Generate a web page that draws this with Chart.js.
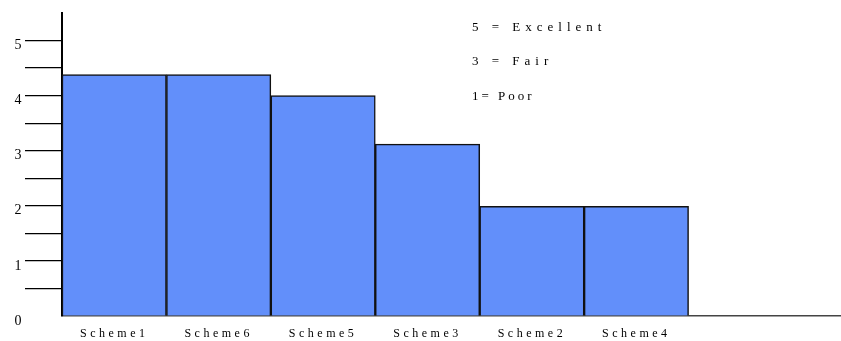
<!DOCTYPE html>
<html>
<head>
<meta charset="utf-8">
<script src="https://cdn.jsdelivr.net/npm/chart.js@4/dist/chart.umd.min.js"></script>
<style>
  html, body { margin: 0; padding: 0; background: #fff; }
  #wrap { width: 841px; height: 341px; position: relative; }
</style>
</head>
<body>
<div id="wrap"><canvas id="chart"></canvas></div>
<script>
// ratings per scheme, in plotted order
const schemes = ['Scheme1', 'Scheme6', 'Scheme5', 'Scheme3', 'Scheme2', 'Scheme4'];
const ratings = [4.38, 4.38, 4.0, 3.12, 1.99, 1.99];
const yTicks = [0, 0.5, 1, 1.5, 2, 2.5, 3, 3.5, 4, 4.5, 5];
const scaleNotes = ['5 = Excellent', '3 = Fair', '1= Poor'];

const SERIF = '"Liberation Serif", "DejaVu Serif", serif';

// the rating key in the upper right
const notesPlugin = {
    id: 'notes',
    beforeDraw(chart) {
        chart.ctx.letterSpacing = '3.5px';
    },
    afterDraw(chart) {
        const ctx = chart.ctx;
        ctx.save();
        ctx.font = '13px ' + SERIF;
        ctx.fillStyle = '#000';
        ctx.textBaseline = 'middle';
        ctx.textAlign = 'left';
        const ys = [28, 62, 97];
        scaleNotes.forEach((t, i) => {
            ctx.letterSpacing = i === 2 ? '3px' : '5px';
            ctx.fillText(t, 472, ys[i]);
        });
        ctx.restore();
    }
};

new Chart(document.getElementById('chart'), {
    type: 'bar',
    data: {
        datasets: [{
            data: ratings.map((v, i) => ({ x: i + 0.5, y: v })),
            backgroundColor: '#628ffa',
            borderColor: '#111',
            borderWidth: 1.5,
            borderSkipped: 'bottom',
            barPercentage: 1,
            categoryPercentage: 1
        }]
    },
    options: {
        responsive: true,
        maintainAspectRatio: false,
        animation: false,
        layout: { padding: { left: 6, right: 1, top: 13, bottom: 0 } },
        plugins: { legend: { display: false }, tooltip: { enabled: false } },
        scales: {
            x: {
                type: 'linear',
                offset: false,
                min: 0,
                max: 7.45,
                afterBuildTicks: s => { s.ticks = schemes.map((_, i) => ({ value: i + 0.5 })); },
                afterFit: s => { s.height = 25; },
                ticks: {
                    autoSkip: false,
                    maxRotation: 0,
                    padding: 11,
                    color: '#000',
                    font: { family: SERIF, size: 12 },
                    callback: (v) => schemes[Math.round(v - 0.5)]
                },
                grid: { display: false, drawTicks: false },
                border: { display: true, color: '#444', width: 1.5 }
            },
            y: {
                min: 0,
                max: 5.5,
                afterBuildTicks: s => { s.ticks = yTicks.map(v => ({ value: v })); },
                afterFit: s => { s.width = 56; },
                ticks: {
                    padding: 0,
                    labelOffset: 5,
                    color: '#000',
                    font: { family: SERIF, size: 14 },
                    callback: v => Number.isInteger(v) ? String(v) : ''
                },
                grid: {
                    drawOnChartArea: false,
                    drawTicks: true,
                    tickLength: 37,
                    lineWidth: 1.2,
                    color: ctx => ctx.tick && ctx.tick.value === 0 ? 'rgba(0,0,0,0)' : '#000'
                },
                border: { display: true, color: '#000', width: 2 }
            }
        }
    },
    plugins: [notesPlugin]
});
</script>
</body>
</html>
